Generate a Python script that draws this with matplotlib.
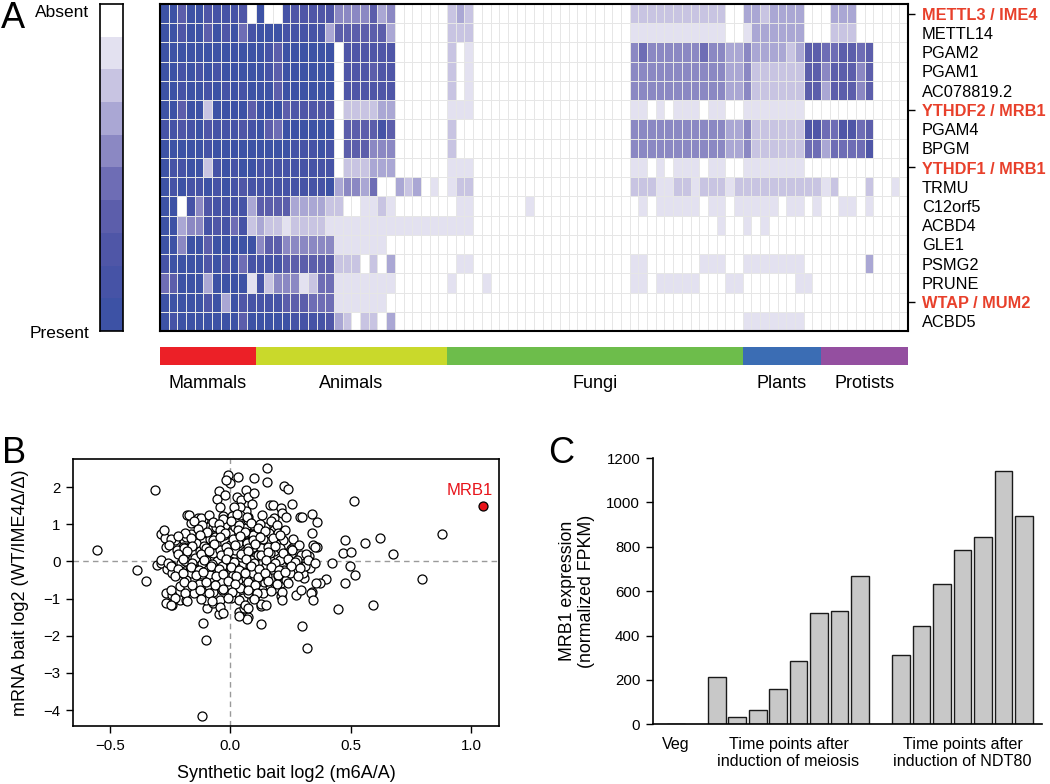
import numpy as np
import matplotlib
matplotlib.use("Agg")
import matplotlib.pyplot as plt
from matplotlib.colors import ListedColormap, BoundaryNorm

plt.rcParams['font.family'] = ['Liberation Sans', 'DejaVu Sans']

W, H = 1050, 784

# ---- panel A data ----
genes = ["METTL3 / IME4", "METTL14", "PGAM2", "PGAM1", "AC078819.2",
         "YTHDF2 / MRB1", "PGAM4", "BPGM", "YTHDF1 / MRB1", "TRMU", "C12orf5",
         "ACBD4", "GLE1", "PSMG2", "PRUNE", "WTAP / MUM2", "ACBD5"]
highlighted = ["METTL3 / IME4", "YTHDF2 / MRB1", "YTHDF1 / MRB1", "WTAP / MUM2"]

groups = ["Mammals", "Animals", "Fungi", "Plants", "Protists"]
group_sizes = [11, 22, 34, 9, 10]
group_colors = ["#ec2027", "#c9d92b", "#6dbd4b", "#3b6db4", "#944fa0"]

level_colors = ["#ffffff", "#e3e1f0", "#c8c4e2", "#aaa7d4", "#8b88c3",
                "#6e6db5", "#5c5eab", "#4f56a7", "#4653a6", "#3d52a5"]

# 0 = absent ... 9 = present, one string per taxon group
presence = [
    ["99699788870", "9008777774444634000000", "232" "000000000000000000" "22222222222" "00", "332333300", "0333000000"],
    ["99799697958", "9998888836666663000000", "222" "000000000000000000" "11111111111" "00", "133333300", "0222000000"],
    ["99999999999", "9869999990777777000000", "201" "000000000000000000" "45444444544" "33", "433332366", "5566560000"],
    ["99898989999", "9869999990777677000000", "201" "000000000000000000" "44444444444" "33", "422222266", "4666460000"],
    ["99899898989", "9969999990777777000000", "201" "000000000000000000" "44444444444" "33", "422222266", "3666460000"],
    ["99699299996", "9996777770222233000000", "111" "000000000000000000" "11010111011" "00", "111111100", "0000000000"],
    ["88789788878", "9659999990666686000000", "200" "000000000000000000" "44444444444" "33", "422222277", "5577560000"],
    ["99999899999", "9999888980666444000000", "200" "000000000000000000" "44444444444" "33", "422222255", "3555570000"],
    ["98899289899", "8888888880222333000000", "111" "000000000000000000" "11010111011" "00", "111111100", "0000000000"],
    ["98988989878", "8888888893443500323010", "122" "000000000000000000" "22211221222" "12", "222222222", "1200020010"],
    ["99084788883", "6666333322001121000000", "011" "000000" "1" "00000000000" "01011111011" "01", "111101101", "0011010000"],
    ["99344878582", "3221222211111111111111", "111" "0000000000000000000000000000" "100", "101000000", "0000000000"],
    ["99499699999", "4664444441111110000000", "0000000000000000000000000000000000", "000000000", "0000000000"],
    ["89999797958", "8886666662220203000000", "011" "000000000000000000" "11000000111" "00", "111111100", "0000030000"],
    ["56999399991", "8244412551111111000000", "1" "000" "1" "0000000000000000" "11011111000" "11", "000000110", "0000000000"],
    ["99999793978", "8886665551111110000000", "0000000000000000000000000000000000", "000000000", "0000000000"],
    ["98999999969", "9999888873202203000000", "0000000000000000000000000000000000", "111111100", "0000000000"],
]

# ---- panel B data: (synthetic bait log2, mRNA bait log2) ----
points = [
    (-0.554, 0.31), (-0.314, 1.93), (-0.39, -0.22), (-0.352, -0.53), (-0.307, -0.09), (-0.288, -0.05),
    (-0.288, 0.75), (-0.27, 0.62), (-0.266, 0.40), (-0.263, -0.19), (-0.266, -0.85), (-0.266, -1.12),
    (-0.244, -1.17), (-0.244, -0.9), (-0.229, 0.57), (-0.204, -0.03), (-0.21, -1.03), (-0.186, -1.03),
    (-0.18, 1.26), (-0.163, 1.05), (-0.134, 1.17), (-0.112, -1.66), (-0.102, -2.11), (-0.116, -4.15),
    (-0.096, -1.26), (-0.094, 0.94), (-0.047, -1.42), (-0.008, 2.34), (-0.003, 2.11), (-0.017, 2.2),
    (0.032, 2.27), (-0.047, 1.89), (-0.054, 1.68), (-0.022, 1.80), (-0.042, 1.46), (-0.031, 1.23),
    (0.028, 1.73), (0.046, 1.66), (0.066, 1.93), (0.073, 1.75), (0.1, 1.84), (0.1, 2.24),
    (0.089, 1.55), (0.15, 2.51), (0.15, 2.13), (0.222, 2.04), (0.24, 1.95), (0.163, 1.51),
    (0.177, 1.51), (0.212, 1.44), (0.216, 1.30), (0.255, 1.55), (0.288, 1.21), (0.299, 1.19),
    (0.341, 1.28), (0.361, 1.06), (0.337, 0.76), (0.343, 0.45), (0.361, 0.39), (0.514, 1.62),
    (0.478, 0.58), (0.468, 0.22), (0.499, 0.25), (0.558, 0.49), (0.623, 0.62), (0.676, 0.19),
    (0.422, -0.03), (0.496, -0.13), (0.519, -0.37), (0.476, -0.59), (0.399, -0.48), (0.374, -0.58),
    (0.357, -0.57), (0.445, -1.27), (0.594, -1.18), (0.796, -0.48), (0.881, 0.75), (0.341, -0.83),
    (0.334, -0.85), (0.343, -1.05), (0.274, -0.91), (0.298, -1.73), (0.319, -2.34), (0.127, -1.67),
    (0.127, -1.21), (0.129, -1.14), (0.073, -1.50), (0.068, -1.56), (0.036, -1.37), (0.058, -1.24),
    (0.1, -0.99), (0.209, -0.93), (0.212, -0.58), (0.307, -0.45), (0.302, -0.30), (0.295, -0.13),
    (0.33, -0.18), (0.327, 0.15), (0.295, 0.18), (0.26, 0.39), (0.267, -0.24), (0.25, 0.18),
    (0.223, -0.22), (0.226, 0.22), (0.219, 0.58), (0.18, 0.85), (0.161, 0.76), (0.191, 0.48),
    (0.18, 0.27), (0.177, -0.13), (0.177, -0.45), (0.163, -0.67), (0.139, -0.56), (0.122, -0.40),
    (0.108, -0.22), (0.105, 0.15), (0.144, 0.17), (0.137, 0.60), (0.129, 0.94), (0.108, 0.87),
    (0.091, 0.99), (0.064, 0.94), (0.028, 0.96), (0.05, 1.12), (0.073, 1.19), (0.064, 1.35),
    (0.039, 1.48), (0.015, 1.46), (0.007, 1.23), (-0.024, 0.99), (-0.044, 0.85), (-0.072, 0.94),
    (-0.098, 0.76), (-0.127, 0.76), (-0.148, 0.72), (-0.163, 0.75), (-0.144, 0.49), (-0.169, 0.46),
    (-0.193, 0.58), (-0.199, 0.40), (-0.222, 0.31), (-0.186, 0.22), (-0.204, 0.18), (-0.224, -0.30),
    (-0.199, -0.31), (-0.18, -0.33), (-0.163, -0.31), (-0.183, -0.49), (-0.211, -0.67), (-0.175, -0.70),
    (-0.151, -0.85), (-0.12, -0.73), (-0.114, -0.94), (-0.13, -0.60), (-0.116, -0.34), (-0.141, -0.20),
    (-0.1, -0.22), (-0.12, -0.03), (-0.148, 0.09), (-0.127, 0.27), (-0.111, 0.42), (-0.093, 0.30),
    (-0.083, 0.60), (-0.061, 0.46), (-0.072, 0.22), (-0.042, 0.31), (-0.055, 0.0), (-0.072, -0.13),
    (-0.086, -0.36), (-0.072, -0.54), (-0.09, -0.67), (-0.072, -0.82), (-0.1, -1.03), (-0.072, -1.11),
    (-0.044, -1.03), (-0.035, -0.76), (-0.03, -0.31), (-0.033, -0.13), (-0.003, 0.0), (-0.017, 0.18),
    (-0.003, 0.45), (-0.028, 0.72), (0.011, 0.67), (0.018, 0.31), (0.032, 0.49), (0.053, 0.75),
    (0.083, 0.75), (0.069, 0.49), (0.06, 0.27), (0.094, 0.40), (0.042, 0.13), (0.066, 0.16),
    (0.018, -0.13), (0.011, -0.36), (0.032, -0.49), (-0.003, -0.63), (0.018, -0.85), (0.039, -0.72),
    (0.004, -0.99), (0.053, -0.99), (0.073, -0.85), (0.08, -0.67), (0.066, -0.45), (0.053, -0.27),
    (0.083, -0.13), (0.087, 0.04), (0.094, -0.31), (0.108, -0.58), (0.101, -0.76), (0.136, -0.85),
    (0.15, -0.40), (0.147, -0.09), (0.163, 0.04), (0.205, 0.04), (0.198, -0.40), (0.233, -0.49),
    (0.247, -0.31), (0.244, 0.0), (0.278, 0.04), (0.309, -0.11), (0.184, -0.72), (0.163, 0.22),
    (0.205, 0.36), (0.129, 0.36), (0.114, 0.18), (-0.1, 0.04), (-0.169, -0.13), (-0.187, 0.0),
    (-0.241, -0.31), (-0.245, -0.09), (-0.183, 0.67), (-0.114, 1.12), (-0.058, 0.94), (-0.003, 0.76),
    (-0.065, 0.67), (0.032, 1.12), (0.066, 0.76), (0.094, 0.72), (0.039, 1.26), (0.144, 0.94),
    (0.018, 0.94), (0.073, 1.12),
    # dense core
    (-0.172, 1.26), (-0.121, 1.17), (-0.090, 1.24), (-0.031, 1.15), (0.028, 1.27), (0.071, 1.19),
    (0.131, 1.25), (0.182, 1.16), (0.229, 1.21),
    (-0.150, 1.08), (-0.118, 0.98), (-0.073, 1.06), (-0.049, 1.01), (0.004, 1.10), (0.034, 0.97),
    (0.086, 1.05), (0.124, 1.00), (0.169, 1.09), (0.193, 0.99),
    (-0.274, 0.85), (-0.188, 0.78), (-0.135, 0.88), (-0.099, 0.80), (-0.045, 0.86), (-0.022, 0.76),
    (0.031, 0.84), (0.060, 0.79), (0.114, 0.89), (0.145, 0.81), (0.197, 0.77), (0.228, 0.86),
    (-0.246, 0.60), (-0.216, 0.68), (-0.163, 0.62), (-0.126, 0.70), (-0.073, 0.58), (-0.042, 0.66),
    (0.010, 0.61), (0.041, 0.69), (0.093, 0.59), (0.124, 0.67), (0.176, 0.63), (0.207, 0.71), (0.260, 0.60),
    (-0.257, 0.45), (-0.191, 0.37), (-0.160, 0.43), (-0.101, 0.35), (-0.070, 0.47), (-0.018, 0.39),
    (0.020, 0.44), (0.072, 0.36), (0.103, 0.46), (0.156, 0.38), (0.186, 0.42), (0.253, 0.34),
    (0.283, 0.45), (0.350, 0.40),
    (-0.218, 0.19), (-0.181, 0.27), (-0.121, 0.21), (-0.091, 0.29), (-0.038, 0.18), (-0.008, 0.25),
    (0.045, 0.20), (0.075, 0.28), (0.128, 0.17), (0.158, 0.26), (0.218, 0.22), (0.255, 0.30), (0.315, 0.19),
    (-0.289, 0.05), (-0.258, -0.03), (-0.198, 0.07), (-0.160, -0.04), (-0.108, 0.03), (-0.077, -0.06),
    (-0.018, 0.06), (0.013, -0.02), (0.066, 0.08), (0.096, -0.05), (0.149, 0.04), (0.186, -0.03),
    (0.239, 0.06), (0.269, -0.01), (0.322, 0.05), (0.352, -0.04),
    (-0.246, -0.13), (-0.216, -0.21), (-0.163, -0.15), (-0.132, -0.23), (-0.080, -0.12), (-0.049, -0.20),
    (0.003, -0.14), (0.034, -0.22), (0.086, -0.11), (0.117, -0.19), (0.169, -0.16), (0.200, -0.24),
    (0.253, -0.13), (0.290, -0.18),
    (-0.232, -0.39), (-0.195, -0.31), (-0.142, -0.37), (-0.112, -0.29), (-0.059, -0.40), (-0.029, -0.33),
    (0.024, -0.38), (0.061, -0.30), (0.114, -0.41), (0.145, -0.32), (0.197, -0.36), (0.228, -0.28), (0.280, -0.39),
    (-0.191, -0.54), (-0.160, -0.62), (-0.101, -0.55), (-0.063, -0.64), (-0.011, -0.52), (0.020, -0.60),
    (0.072, -0.56), (0.103, -0.63), (0.156, -0.53), (0.193, -0.61), (0.239, -0.57),
    (-0.246, -0.76), (-0.188, -0.84), (-0.128, -0.78), (-0.091, -0.86), (-0.031, -0.75), (0.006, -0.83),
    (0.072, -0.77), (0.110, -0.85), (0.169, -0.79), (0.214, -0.82), (0.294, -0.76),
    (-0.232, -0.98), (-0.181, -1.06), (-0.121, -1.00), (-0.077, -1.07), (-0.011, -0.97), (0.034, -1.05),
    (0.100, -1.01), (0.214, -1.04),
    (-0.246, -1.17), (-0.042, -1.23), (0.059, -1.18), (0.075, -1.24), (0.149, -1.16),
    (-0.031, -1.40), (0.034, -1.46),
]
highlight_point = (1.05, 1.5)
highlight_name = "MRB1"

# ---- panel C data ----
veg = [3]
meiosis = [213, 35, 63, 157, 287, 503, 511, 670]
ndt80 = [311, 441, 634, 787, 843, 1140, 940]
bar_groups = ["Veg", "Time points after\ninduction of meiosis", "Time points after\ninduction of NDT80"]


def px(x0, y0, x1, y1):
    return [x0 / W, 1 - y1 / H, (x1 - x0) / W, (y1 - y0) / H]


fig = plt.figure(figsize=(W / 100, H / 100), dpi=100)
red = "#e8402b"

# ---------------- A: heatmap ----------------
mat = np.array([[int(c) for c in "".join(row)] for row in presence])
ncol = mat.shape[1]
cmap = ListedColormap(level_colors)
norm = BoundaryNorm(np.arange(-0.5, 10.5, 1), cmap.N)

ax = fig.add_axes(px(160, 4, 908, 331))
xe = np.arange(ncol + 1)
ye = np.arange(len(genes) + 1)
ax.pcolormesh(xe, ye, mat, cmap=cmap, norm=norm)
blank = np.ma.masked_where(mat != 0, mat)
ax.pcolormesh(xe, ye, blank, cmap=ListedColormap(["white"]),
              edgecolors="#e6e6e6", linewidth=0.5)
ax.set_xlim(0, ncol)
ax.set_ylim(len(genes), 0)
ax.set_xticks([])
ax.yaxis.tick_right()
ax.set_yticks(np.arange(len(genes)) + 0.5)
ax.set_yticklabels(genes)
ax.tick_params(axis="y", length=5, width=1, pad=5, labelsize=11.8)
for tick, lab, g in zip(ax.yaxis.get_major_ticks(), ax.get_yticklabels(), genes):
    if g in highlighted:
        lab.set_color(red)
        lab.set_fontweight("bold")
    else:
        tick.tick2line.set_visible(False)
for s in ax.spines.values():
    s.set_linewidth(1.5)

# legend bar
cax = fig.add_axes(px(100, 4, 123, 331))
cax.imshow(np.arange(10).reshape(-1, 1), cmap=cmap, norm=norm, aspect="auto")
cax.set_xticks([])
cax.set_yticks([])
for s in cax.spines.values():
    s.set_linewidth(1.2)
fig.text(89 / W, 1 - 17 / H, "Absent", ha="right", va="baseline", fontsize=12.5)
fig.text(89 / W, 1 - 338 / H, "Present", ha="right", va="baseline", fontsize=12.5)

# taxon bar
gax = fig.add_axes(px(160, 347, 908, 365))
starts = np.cumsum([0] + group_sizes[:-1])
gax.barh(0, group_sizes, left=starts, height=1, color=group_colors)
gax.set_xlim(0, ncol)
gax.set_ylim(-0.5, 0.5)
gax.axis("off")
for name, st, n in zip(groups, starts, group_sizes):
    gax.text(st + n / 2, -1.0, name, transform=gax.get_xaxis_transform(),
             ha="center", va="center", fontsize=13)

# ---------------- B: scatter ----------------
synthetic, mrna = zip(*points)
bx = fig.add_axes(px(73, 459, 499, 726))
bx.axhline(0, color="#9a9a9a", lw=1, ls=(0, (4, 3)), zorder=1)
bx.axvline(0, color="#9a9a9a", lw=1, ls=(0, (4, 3)), zorder=1)
bx.scatter(synthetic, mrna, s=42, facecolors="white", edgecolors="black",
           linewidths=0.9, zorder=3)
bx.scatter([highlight_point[0]], [highlight_point[1]], s=42, facecolors="#e8141b",
           edgecolors="black", linewidths=0.9, zorder=4)
bx.text(highlight_point[0] - 0.055, highlight_point[1] + 0.4, highlight_name,
        color="#e8141b", ha="center", va="center", fontsize=12)
bx.set_xlim(-0.654, 1.116)
bx.set_ylim(-4.43, 2.76)
bx.set_xticks([-0.5, 0.0, 0.5, 1.0])
bx.set_yticks(range(-4, 3))
bx.tick_params(length=5, width=1, labelsize=10.8, pad=4)
bx.set_xlabel("Synthetic bait log2 (m6A/A)", fontsize=13, labelpad=9)
bx.set_ylabel("mRNA bait log2 (WT/IME4\u0394/\u0394)", fontsize=13, labelpad=10)
for s in bx.spines.values():
    s.set_linewidth(1.2)

# ---------------- C: bars ----------------
cx = fig.add_axes(px(652.7, 458, 1042, 724.3))
start = 0
centers = []
for vals in [veg, meiosis, ndt80]:
    pos = np.arange(start, start + len(vals))
    cx.bar(pos, vals, width=0.86, color="#c8c8c8", edgecolor="#1a1a1a", linewidth=1.0)
    centers.append(pos.mean())
    start += len(vals) + 1
cx.set_xlim(-1.128, 17.88)
cx.set_ylim(0, 1200)
cx.set_yticks(range(0, 1201, 200))
cx.set_xticks(centers)
cx.set_xticklabels(bar_groups, fontsize=11.6, va="top")
cx.tick_params(axis="x", length=0, pad=9)
cx.tick_params(axis="y", length=5, width=1, labelsize=10.8, pad=4)
cx.spines["top"].set_visible(False)
cx.spines["right"].set_visible(False)
cx.spines["left"].set_linewidth(1.2)
cx.spines["bottom"].set_linewidth(1.2)
cx.set_ylabel("MRB1 expression\n(normalized FPKM)", fontsize=12.8, labelpad=8)

# panel letters
fig.text(1 / W, 1 - 28 / H, "A", fontsize=26, va="baseline")
fig.text(2 / W, 1 - 463 / H, "B", fontsize=26, va="baseline")
fig.text(548 / W, 1 - 463 / H, "C", fontsize=26, va="baseline")

fig.savefig("out.png", dpi=100)
